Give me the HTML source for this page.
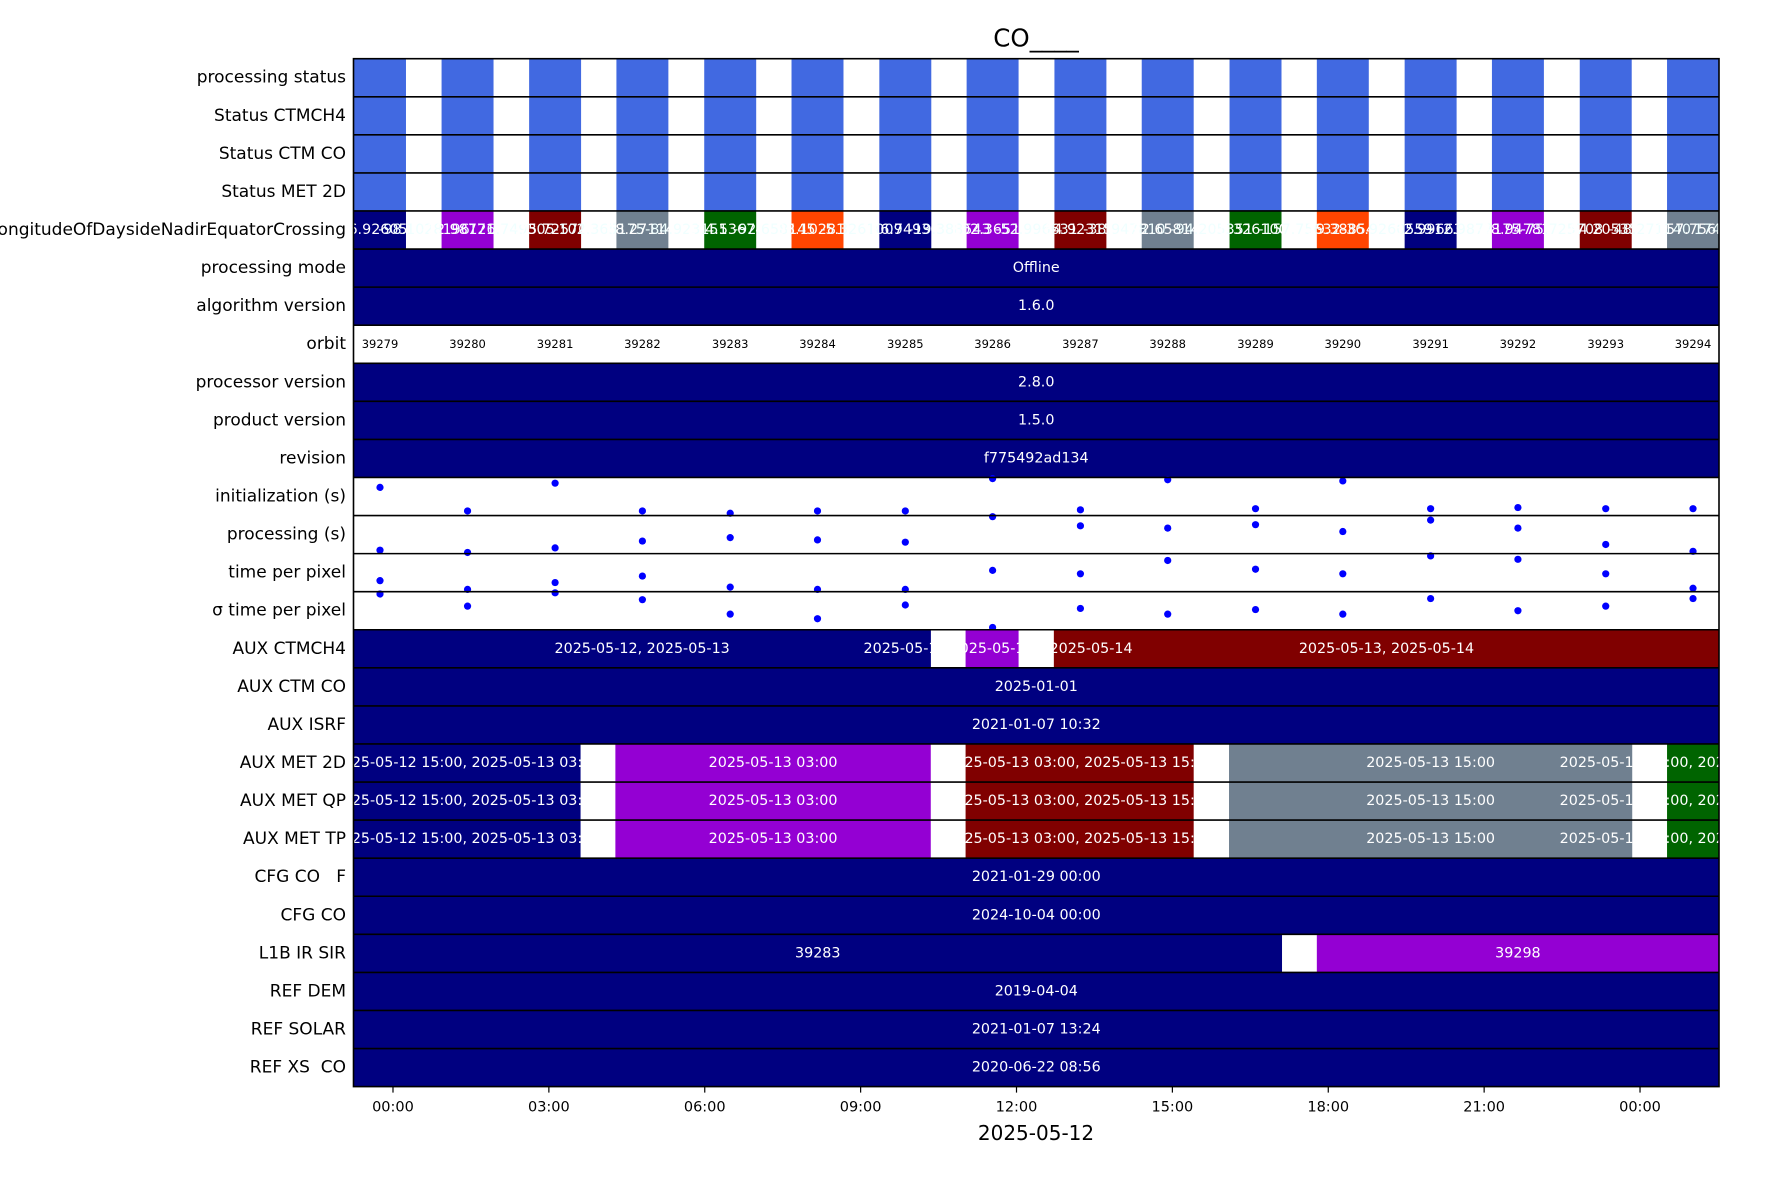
<!DOCTYPE html>
<html><head><meta charset="utf-8"><style>
html,body{margin:0;padding:0;background:#fff;}
svg{display:block;font-family:"DejaVu Sans","Liberation Sans",sans-serif;}
text{white-space:pre;}
</style></head><body>
<svg id="chart" width="1771" height="1181" viewBox="0 0 1771 1181" xmlns="http://www.w3.org/2000/svg" xml:space="preserve"></svg>
<script>
const rowLabels = ["processing status","Status CTMCH4","Status CTM CO","Status MET 2D","LongitudeOfDaysideNadirEquatorCrossing","processing mode","algorithm version","orbit","processor version","product version","revision","initialization (s)","processing (s)","time per pixel","\u03c3 time per pixel","AUX CTMCH4","AUX CTM CO","AUX ISRF","AUX MET 2D","AUX MET QP","AUX MET TP","CFG CO   F","CFG CO","L1B IR SIR","REF DEM","REF SOLAR","REF XS  CO"];
const orbits = [39279,39280,39281,39282,39283,39284,39285,39286,39287,39288,39289,39290,39291,39292,39293,39294];
const orbitStart = [-0.75,0.935,2.62,4.30,5.99,7.67,9.36,11.04,12.73,14.41,16.10,17.78,19.47,21.15,22.84,24.52];
const orbitDur = 1.0;
const lonColors = ["#000080","#9400d3","#800000","#708090","#006400","#ff4500","#000080","#9400d3","#800000","#708090","#006400","#ff4500","#000080","#9400d3","#800000","#708090"];
const lonText = ["-36.9260559","-12.9877175","-75.725708","-48.271140","174.536745","-98.1028196","126.749305","-102.365175","-84.923151","-92.658145","-5.3261009","-19.388543","-52.996631","-38.947810","-94.205351","-157.75632"];
const initVals = [0.74,0.12,0.85,0.12,0.06,0.12,0.12,0.97,0.15,0.94,0.18,0.91,0.18,0.21,0.18,0.18];
const procVals = [0.09,0.03,0.15,0.33,0.42,0.36,0.30,0.97,0.73,0.67,0.76,0.58,0.88,0.67,0.24,0.06];
const tppVals = [0.29,0.06,0.24,0.41,0.12,0.06,0.06,0.56,0.47,0.82,0.59,0.47,0.94,0.85,0.47,0.09];
const sigVals = [0.94,0.62,0.97,0.79,0.41,0.29,0.65,0.06,0.56,0.41,0.53,0.41,0.82,0.50,0.62,0.82];
const xTicks = [0,3,6,9,12,15,18,21,24];
const xTickLabels = ["00:00","03:00","06:00","09:00","12:00","15:00","18:00","21:00","00:00"];
const fullRows = {5:"Offline",6:"1.6.0",8:"2.8.0",9:"1.5.0",10:"f775492ad134",16:"2025-01-01",17:"2021-01-07 10:32",21:"2021-01-29 00:00",22:"2024-10-04 00:00",24:"2019-04-04",25:"2021-01-07 13:24",26:"2020-06-22 08:56"};
const ctmSegs = [[-0.76,10.35,"#000080","2025-05-12, 2025-05-13"],[9.36,10.35,"#000080","2025-05-13"],[11.02,12.04,"#9400d3","2025-05-13"],[12.72,25.52,"#800000","2025-05-13, 2025-05-14"],[12.72,14.15,"#800000","2025-05-14"]];
const metSegs = [[-0.76,3.61,"#000080","2025-05-12 15:00, 2025-05-13 03:00"],[4.28,10.35,"#9400d3","2025-05-13 03:00"],[11.02,15.41,"#800000","2025-05-13 03:00, 2025-05-13 15:00"],[16.09,23.85,"#708090","2025-05-13 15:00"],[24.52,25.52,"#006400","2025-05-13 15:00, 2025-05-14 03:00"]];
const l1bSegs = [[-0.76,17.11,"#000080","39283"],[17.78,25.52,"#9400d3","39298"]];

const L=353.5,R=1719,T=58.7,B=1086.6,N=rowLabels.length,RH=(B-T)/N;
const H0=-0.76,H1=25.52;
const x=h=>L+(h-H0)/(H1-H0)*(R-L);
const rowY=i=>T+i*RH;
const svg=document.getElementById('chart');
const NS="http://www.w3.org/2000/svg";
function mk(tag,attrs,parent){const e=document.createElementNS(NS,tag);for(const k in attrs)e.setAttribute(k,attrs[k]);(parent||svg).appendChild(e);return e;}
function txt(s,xx,yy,size,fill,anchor,parent){const t=mk('text',{x:xx,y:yy,'font-size':size,fill:fill,'text-anchor':anchor||'middle','dominant-baseline':'central'},parent);t.textContent=s;return t;}

let t=txt("CO____",1036,38,24.5,"#000");



const plot=mk('g',{});



function segRow(i,segs,name){
  segs.forEach(s=>{
    const r=mk('rect',{x:x(s[0]),y:rowY(i),width:x(s[1])-x(s[0]),height:RH,fill:s[2]},plot);
    
    
    if(s[3]){const tt=txt(s[3],(x(s[0])+x(s[1]))/2,rowY(i)+RH/2,14.3,"#fff","middle",plot);
    
    }
  });
}
for(let i=0;i<4;i++){
  orbitStart.forEach((s,k)=>{
    const r=mk('rect',{x:x(Math.max(s,H0)),y:rowY(i),width:x(s+orbitDur)-x(Math.max(s,H0)),height:RH,fill:"#4169e1"},plot);
    
    
  });
}
orbitStart.forEach((s,k)=>{
  const a=Math.max(s,H0),b=s+orbitDur;
  const r=mk('rect',{x:x(a),y:rowY(4),width:x(b)-x(a),height:RH,fill:lonColors[k]},plot);
  
  
});
orbitStart.forEach((s,k)=>{
  const c=x(s+orbitDur/2);
  let tt=txt(lonText[k],c,rowY(4)+RH/2,14.3,"#fff","middle",plot);
  
  
  tt=txt(lonText[(k+5)%16],c+44,rowY(4)+RH/2,14.3,"#f0ffff","middle",plot);
  
  
});
for(const i in fullRows){
  segRow(+i,[[H0,H1,"#000080",fullRows[i]]],rowLabels[i].toLowerCase().replace(/[^a-z0-9]+/g,'-'));
}
orbitStart.forEach((s,k)=>{
  const tt=txt(String(orbits[k]),x(s+orbitDur/2),rowY(7)+RH/2,11.5,"#000","middle",plot);
  
  
});
[[11,initVals],[12,procVals],[13,tppVals],[14,sigVals]].forEach(([i,vals])=>{
  vals.forEach((v,k)=>{
    const c=mk('circle',{cx:x(orbitStart[k]+orbitDur/2),cy:rowY(i+1)-v*RH,r:3.6,fill:"#0000ff"},plot);
    
    
  });
});
segRow(15,ctmSegs,'aux-ctmch4');
segRow(18,metSegs,'aux-met-2d');
segRow(19,metSegs,'aux-met-qp');
segRow(20,metSegs,'aux-met-tp');
segRow(23,l1bSegs,'l1b-ir-sir');

const cov=mk('rect',{x:R+1,y:0,width:60,height:1181,fill:"#fff"});



for(let i=1;i<N;i++){
  const l=mk('line',{x1:L,x2:R,y1:rowY(i),y2:rowY(i),stroke:"#000","stroke-width":1.6});
  
  
}
const fr=mk('rect',{x:L,y:T,width:R-L,height:B-T,fill:"none",stroke:"#000","stroke-width":1.6});



rowLabels.forEach((s,i)=>{
  const tt=txt(s,346,rowY(i)+RH/2,17,"#000","end");
  
  
});
xTicks.forEach((h,k)=>{
  const l=mk('line',{x1:x(h),x2:x(h),y1:B,y2:B+6,stroke:"#000","stroke-width":1.2});
  
  
  const tt=txt(xTickLabels[k],x(h),B+21,14.5,"#000");
  
  
});
t=txt("2025-05-12",1036,1133,20,"#000");


</script>
</body></html>
